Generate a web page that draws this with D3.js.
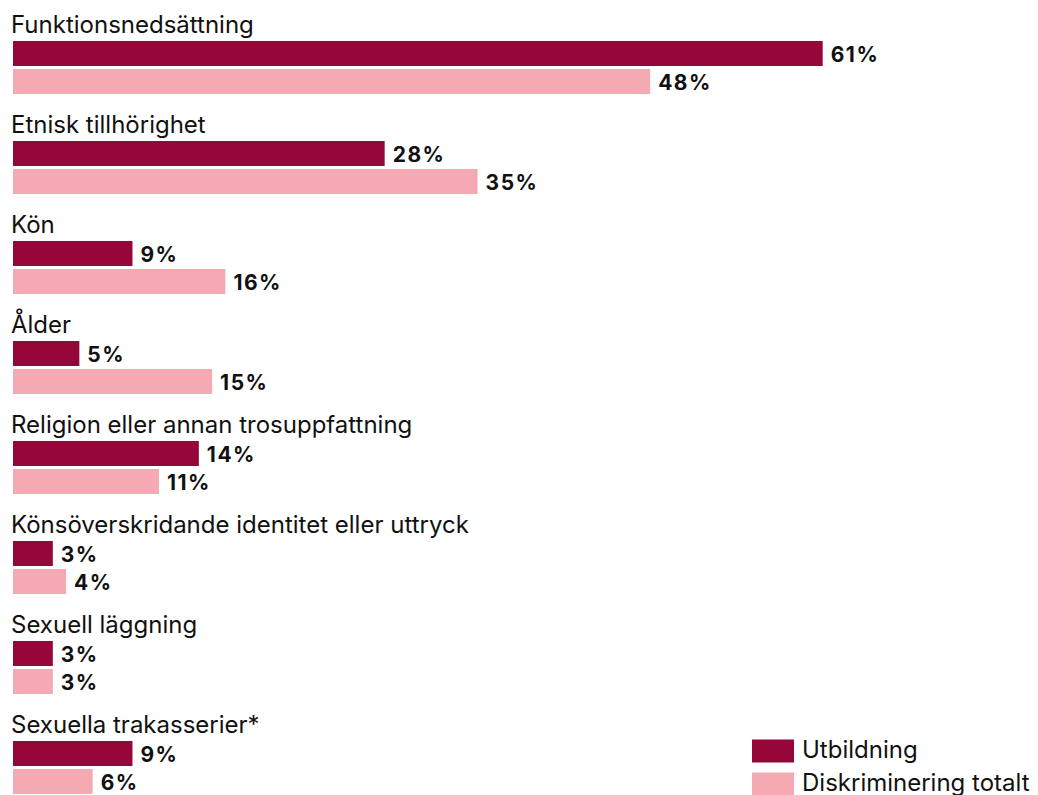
<!DOCTYPE html>
<html><head><meta charset="utf-8">
<script src="https://cdn.jsdelivr.net/npm/d3@7"></script>
<style>body{margin:0;background:#fff}svg{display:block}</style>
</head><body>
<svg id="c" width="1038" height="795"></svg>
<script>
const categories = ["Funktionsnedsättning","Etnisk tillhörighet","Kön","Ålder","Religion eller annan trosuppfattning","Könsöverskridande identitet eller uttryck","Sexuell läggning","Sexuella trakasserier*"];
const utbildning = [61,28,9,5,14,3,3,9];
const totalt = [48,35,16,15,11,4,3,6];
const seriesNames = ["Utbildning","Diskriminering totalt"];
const colors = ["#950639","#F5A9B3"];

const svg = d3.select("#c");
const x = d3.scaleLinear().domain([0,61]).range([13,822.7]);
const y = d3.scaleBand().domain(categories).range([0,800]);
const font = "Inter, 'Noto Sans', sans-serif";

const g = svg.selectAll("g.grp").data(categories).join("g")
  .attr("transform", d => `translate(0,${y(d)})`);

g.append("text").attr("x",11).attr("y",33).text(d=>d)
  .attr("font-family",font).attr("font-size",24).attr("fill","#111");

const series = [utbildning, totalt];
series.forEach((vals, si) => {
  g.append("rect").attr("x", x(0)).attr("y", 41 + si*28)
    .attr("width", (d,i) => x(vals[i]) - x(0)).attr("height", 25)
    .attr("fill", colors[si]);
  g.append("text").attr("x",(d,i)=>x(vals[i])+8).attr("y", 41+si*28+21)
    .text((d,i)=>vals[i]+"%")
    .attr("font-family",font).attr("font-weight",700).attr("font-size",21)
    .attr("letter-spacing",1.5).attr("fill","#111");
});

const leg = svg.append("g");
seriesNames.forEach((n,i)=>{
  leg.append("rect").attr("x",752).attr("y",739.5+i*33).attr("width",42).attr("height",23).attr("fill",colors[i]);
  leg.append("text").attr("x",802).attr("y",758+i*33).text(n)
    .attr("font-family",font).attr("font-size",24).attr("fill","#111");
});
</script>
</body></html>
